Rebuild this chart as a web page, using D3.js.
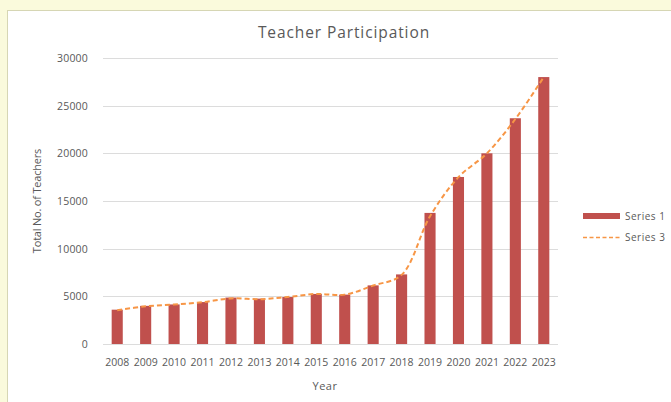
<!DOCTYPE html>
<html>
<head>
<meta charset="utf-8">
<script src="https://cdn.jsdelivr.net/npm/d3@7"></script>
<style>
  html, body { margin: 0; padding: 0; background: #fafadc; }
  svg { display: block; }
  text { font-family: "Open Sans", "DejaVu Sans", sans-serif; fill: #595959; }
</style>
</head>
<body>
<svg width="671" height="402"></svg>
<script>
// 数据
const years = ['2008', '2009', '2010', '2011', '2012', '2013', '2014', '2015',
    '2016', '2017', '2018', '2019', '2020', '2021', '2022', '2023'];
const series1 = [3600, 4000, 4150, 4400, 4870, 4760, 4930, 5250,
    5180, 6150, 7300, 13750, 17520, 20000, 23680, 28000];
const series3 = [3550, 3950, 4150, 4380, 4780, 4700, 4930, 5250,
    5180, 6130, 7250, 13400, 17500, 20000, 23600, 28000];
const yTicks = [0, 5000, 10000, 15000, 20000, 25000, 30000];

const svg = d3.select('svg');

// 背景面板
svg.append('rect')
    .attr('x', 7.5).attr('y', 10.5)
    .attr('width', 680).attr('height', 420)
    .attr('fill', '#ffffff')
    .attr('stroke', '#d6d6b4')
    .attr('stroke-width', 1);

const margin = { top: 58, left: 103 };
const width = 455;
const height = 286;

const x = d3.scaleBand().domain(years).range([0, width]).paddingInner(0.61).paddingOuter(0.305);
const y = d3.scaleLinear().domain([0, 30000]).range([height, 0]);

const g = svg.append('g').attr('transform', `translate(${margin.left},${margin.top})`);

// 网格线
g.selectAll('.grid')
    .data(yTicks)
    .enter()
    .append('line')
    .attr('x1', 0).attr('x2', width)
    .attr('y1', (d) => Math.round(y(d)) + 0.5)
    .attr('y2', (d) => Math.round(y(d)) + 0.5)
    .attr('stroke', '#dcdcdc')
    .attr('stroke-width', 1);

// y轴
const yAxis = g.append('g')
    .call(d3.axisLeft(y).tickValues(yTicks).tickSize(0).tickPadding(15).tickFormat(d3.format('d')));
yAxis.select('.domain').remove();
yAxis.selectAll('text').attr('font-size', 10.5).attr('fill', '#595959')
    .style('font-family', '"Open Sans", sans-serif')
    .style('letter-spacing', '0.2px');

// x轴
const xAxis = g.append('g')
    .attr('transform', `translate(0,${height})`)
    .call(d3.axisBottom(x).tickSize(0).tickPadding(15));
xAxis.select('.domain').remove();
xAxis.selectAll('text').attr('font-size', 10.5).attr('fill', '#595959')
    .style('font-family', '"Open Sans", sans-serif');

// 条形图
g.selectAll('.bar')
    .data(years)
    .enter()
    .append('rect')
    .attr('class', 'bar')
    .attr('x', (d) => x(d))
    .attr('y', (d, i) => y(series1[i]))
    .attr('width', x.bandwidth())
    .attr('height', (d, i) => height - y(series1[i]))
    .attr('fill', '#c0504d');

// 折线图
const line = d3.line()
    .x((d, i) => x(years[i]) + x.bandwidth() / 2)
    .y((d) => y(d))
    .curve(d3.curveCatmullRom.alpha(0.5));

g.append('path')
    .datum(series3)
    .attr('fill', 'none')
    .attr('stroke', '#f79646')
    .attr('stroke-width', 2)
    .attr('stroke-dasharray', '5 3')
    .attr('d', line);

// 标题
svg.append('text')
    .attr('x', 344).attr('y', 38)
    .attr('text-anchor', 'middle')
    .attr('font-size', 15.5)
    .style('letter-spacing', '0.9px')
    .text('Teacher Participation');

svg.append('text')
    .attr('transform', 'translate(41,201) rotate(-90)')
    .attr('text-anchor', 'middle')
    .attr('font-size', 11)
    .style('letter-spacing', '-0.2px')
    .text('Total No. of Teachers');

svg.append('text')
    .attr('x', 325).attr('y', 390)
    .attr('text-anchor', 'middle')
    .attr('font-size', 11)
    .style('letter-spacing', '0.5px')
    .text('Year');

// 图例
const legend = svg.append('g').attr('transform', 'translate(583,0)');
legend.append('rect')
    .attr('x', 0).attr('y', 213).attr('width', 37).attr('height', 6)
    .attr('fill', '#c0504d');
legend.append('text')
    .attr('x', 42).attr('y', 220)
    .attr('font-size', 10)
    .style('letter-spacing', '0.5px')
    .text('Series 1');
legend.append('line')
    .attr('x1', 0).attr('x2', 37).attr('y1', 237.5).attr('y2', 237.5)
    .attr('stroke', '#f79646').attr('stroke-width', 1.5)
    .attr('stroke-dasharray', '4 2.5');
legend.append('text')
    .attr('x', 42).attr('y', 241)
    .attr('font-size', 10)
    .style('letter-spacing', '0.5px')
    .text('Series 3');
</script>
</body>
</html>
